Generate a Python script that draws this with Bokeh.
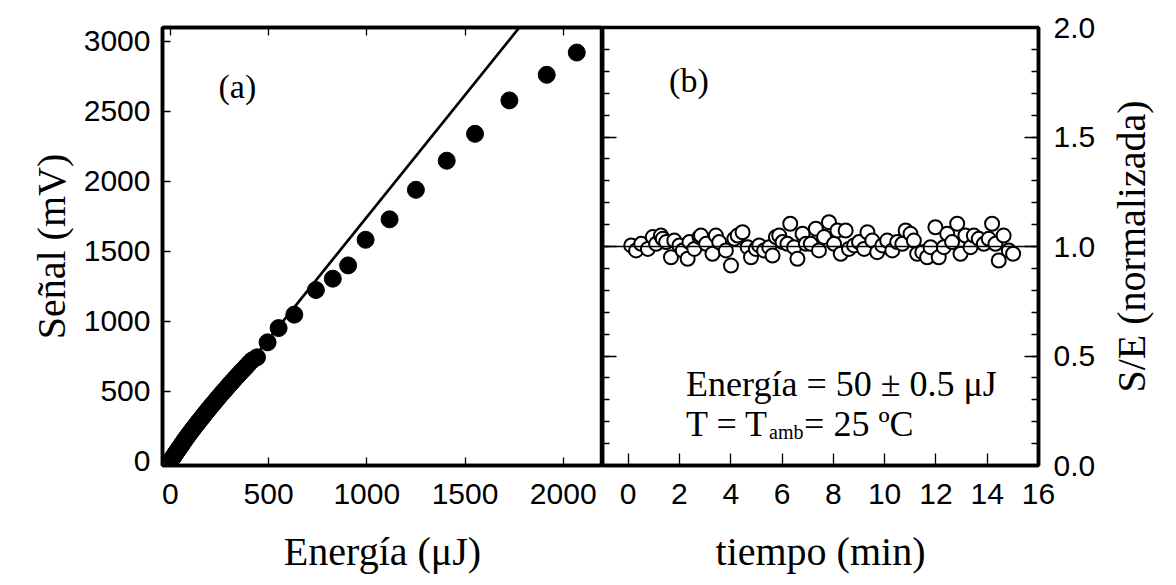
from bokeh.plotting import figure
from bokeh.layouts import row
from bokeh.models import (Range1d, LinearAxis, FixedTicker, Span, Label, Title,
                          PrintfTickFormatter)
from bokeh.embed import file_html
from bokeh.resources import INLINE

# (a) signal vs. pulse energy
energia = [8, 15, 22, 30, 38, 46, 55, 63, 72, 80, 90, 100, 110, 120, 130, 142, 153,
           165, 177, 190, 202, 215, 228, 240, 252, 265, 278, 290, 303, 316, 330, 344,
           358, 372, 386, 400, 415, 441, 495, 551, 631, 741, 827, 905, 994, 1116,
           1250, 1407, 1551, 1726, 1916, 2069]
senal = [18, 32, 47, 63, 80, 96, 114, 131, 149, 165, 184, 203, 222, 240, 258, 280, 299,
         320, 342, 364, 385, 407, 428, 449, 469, 490, 510, 530, 551, 571, 593, 614,
         636, 656, 677, 699, 720, 743, 850, 952, 1048, 1224, 1305, 1400, 1583, 1729,
         1940, 2148, 2340, 2579, 2762, 2921]
fit_slope = 1.745          # mV per uJ, linear fit through the origin
fit_energia = [0, 1800]

# (b) normalised S/E vs. time at fixed energy
tiempo = [0.12, 0.31, 0.51, 0.77, 0.96, 1.09, 1.28, 1.35, 1.48, 1.67, 1.80, 2.00,
          2.13, 2.32, 2.39, 2.58, 2.78, 2.84, 3.04, 3.29, 3.42, 3.55, 3.81, 4.01,
          4.14, 4.27, 4.46, 4.66, 4.79, 4.98, 5.11, 5.30, 5.50, 5.63, 5.76, 5.89,
          6.02, 6.21, 6.32, 6.47, 6.60, 6.80, 6.93, 7.12, 7.32, 7.44, 7.64, 7.83,
          8.03, 8.16, 8.29, 8.48, 8.61, 8.81, 9.00, 9.20, 9.33, 9.52, 9.71, 9.91,
          10.10, 10.30, 10.49, 10.69, 10.82, 11.01, 11.14, 11.27, 11.47, 11.66,
          11.79, 11.98, 12.11, 12.31, 12.44, 12.63, 12.83, 12.96, 13.15, 13.35,
          13.48, 13.67, 13.87, 14.06, 14.19, 14.32, 14.45, 14.64, 14.84, 15.01]
se_norm = [1.005, 0.982, 1.012, 0.989, 1.043, 1.012, 1.050, 1.035, 1.020, 0.951,
           1.027, 1.005, 0.982, 0.944, 1.020, 0.989, 1.043, 1.050, 1.012, 0.967,
           1.050, 1.020, 0.982, 0.913, 1.035, 1.050, 1.065, 0.997, 0.951, 0.989,
           1.005, 0.982, 0.997, 0.959, 1.043, 1.050, 1.020, 1.012, 1.104, 0.997,
           0.944, 1.058, 1.012, 1.012, 1.081, 0.982, 1.043, 1.111, 1.012, 1.073,
           0.967, 1.073, 0.989, 1.005, 1.020, 0.989, 1.065, 1.027, 0.974, 1.005,
           1.027, 0.982, 1.020, 1.012, 1.073, 1.058, 1.027, 0.967, 0.974, 0.951,
           0.997, 1.088, 0.951, 0.997, 1.058, 1.020, 1.104, 0.967, 1.050, 0.997,
           1.050, 1.035, 1.012, 1.035, 1.104, 1.012, 0.936, 1.050, 0.982, 0.967]

x_ticks_a = [0, 500, 1000, 1500, 2000]
y_ticks_a = [0, 500, 1000, 1500, 2000, 2500, 3000]
x_ticks_b = [0, 2, 4, 6, 8, 10, 12, 14, 16]
y_ticks_b = [0.0, 0.5, 1.0, 1.5, 2.0]
y_minor_b = [i / 10 for i in range(21)]

SANS = "Liberation Sans"
SERIF = "Liberation Serif"
TICK_SIZE = "30px"
TITLE_SIZE = "40px"


def style_axis(ax, ticks, tick_in, minor=None, minor_in=0, labels=True):
    ax.ticker = FixedTicker(ticks=ticks, minor_ticks=minor or [])
    ax.major_tick_in = tick_in
    ax.major_tick_out = 0
    ax.minor_tick_in = minor_in
    ax.minor_tick_out = 0
    ax.major_tick_line_color = "black"
    ax.minor_tick_line_color = "black"
    ax.major_tick_line_width = 1.3
    ax.minor_tick_line_width = 1.3
    ax.axis_line_color = "black"
    ax.axis_line_width = 3.5
    if labels:
        ax.major_label_text_font = SANS
        ax.major_label_text_font_size = TICK_SIZE
        ax.major_label_text_color = "black"
    else:
        # tick marks only, no numbers
        ax.major_label_overrides = {t: "" for t in ticks}
        ax.major_label_standoff = 0


def style_title(ax, text, standoff):
    ax.axis_label = text
    ax.axis_label_text_font = SERIF
    ax.axis_label_text_font_size = TITLE_SIZE
    ax.axis_label_text_font_style = "normal"
    ax.axis_label_text_color = "black"
    ax.axis_label_standoff = standoff


def side_title(text, offset, standoff):
    t = Title(text=text, align="center", offset=offset, standoff=standoff)
    t.text_font = SERIF
    t.text_font_size = TITLE_SIZE
    t.text_font_style = "normal"
    t.text_color = "black"
    return t


def blank(p):
    p.grid.visible = False
    p.background_fill_color = "white"
    p.border_fill_color = "white"


# ---------------- panel (a) ----------------
pa = figure(width=602, height=585, x_range=Range1d(-40, 2200), y_range=Range1d(-30, 3100),
            output_backend="svg", toolbar_location=None,
            min_border_left=162, min_border_right=0, min_border_top=27, min_border_bottom=120)
blank(pa)
pa.outline_line_color = "black"
pa.outline_line_width = 3.5

style_axis(pa.xaxis[0], x_ticks_a, 8)
style_axis(pa.yaxis[0], y_ticks_a, 8)
pa.xaxis[0].major_label_standoff = 18
pa.yaxis[0].major_label_standoff = 12
style_title(pa.xaxis[0], "Energía (μJ)", 22)
pa.add_layout(side_title("Señal (mV)", 45, 14), "left")

top_a = LinearAxis()
style_axis(top_a, x_ticks_a, 8, labels=False)
pa.add_layout(top_a, "above")

pa.line(fit_energia, [fit_slope * e for e in fit_energia], line_color="black", line_width=2.7)
pa.scatter(energia, senal, size=17, fill_color="black", line_color="black")
pa.add_layout(Label(x=341, y=2679, text="(a)", text_font=SERIF, text_font_size="34px",
                    text_align="center", text_baseline="middle", text_color="black"))

# ---------------- panel (b) ----------------
pb = figure(width=498, height=585, x_range=Range1d(-1, 16), y_range=Range1d(0, 2),
            y_axis_location="right", output_backend="svg", toolbar_location=None,
            min_border_left=0, min_border_right=62, min_border_top=27, min_border_bottom=120)
blank(pb)
pb.outline_line_color = "black"
pb.outline_line_width = 3.5

style_axis(pb.xaxis[0], x_ticks_b, 12)
style_axis(pb.yaxis[0], y_ticks_b, 14, minor=y_minor_b, minor_in=7)
pb.xaxis[0].major_label_standoff = 18
pb.yaxis[0].major_label_standoff = 15
pb.yaxis[0].formatter = PrintfTickFormatter(format="%.1f")
style_title(pb.xaxis[0], "tiempo (min)", 22)

left_b = LinearAxis()
style_axis(left_b, y_ticks_b, 14, minor=y_minor_b, minor_in=7, labels=False)
pb.add_layout(left_b, "left")

pb.add_layout(Span(location=1.0, dimension="width", line_color="black", line_width=1.5))
pb.scatter(tiempo, se_norm, size=14, fill_color="white", line_color="black", line_width=2)

pb.add_layout(Label(x=2.37, y=1.758, text="(b)", text_font=SERIF, text_font_size="34px",
                    text_align="center", text_baseline="middle", text_color="black"))
NOTE = 36
pb.add_layout(Label(x=2.26, y=0.37, text="Energía = 50 ± 0.5 μJ", text_font=SERIF,
                    text_font_size=f"{NOTE}px", text_baseline="alphabetic", text_color="black"))
pb.add_layout(Label(x=2.26, y=0.19, text="T = T", text_font=SERIF,
                    text_font_size=f"{NOTE}px", text_baseline="alphabetic", text_color="black"))
pb.add_layout(Label(x=2.26, y=0.19, x_offset=83, y_offset=-8, text="amb", text_font=SERIF,
                    text_font_size="20px", text_baseline="alphabetic", text_color="black"))
pb.add_layout(Label(x=2.26, y=0.19, x_offset=118, text="= 25 ºC", text_font=SERIF,
                    text_font_size=f"{NOTE}px", text_baseline="alphabetic", text_color="black"))

# ---------------- right-hand title strip for panel (b) ----------------
pc = figure(width=76, height=585, x_range=Range1d(0, 1), y_range=Range1d(0, 2),
            output_backend="svg", toolbar_location=None,
            min_border_left=0, min_border_right=0, min_border_top=27, min_border_bottom=120)
blank(pc)
pc.axis.visible = False
pc.outline_line_color = None
pc.add_layout(side_title("S/E (normalizada)", -6, 12), "left")

layout = row(pa, pb, pc, spacing=0)
open("out.html", "w").write(file_html(layout, INLINE))
